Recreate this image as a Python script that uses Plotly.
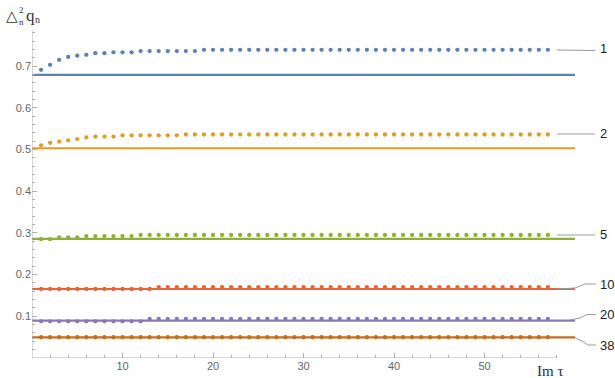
import plotly.graph_objects as go

# ---- data ----
n_labels = ["1", "2", "5", "10", "20", "38"]
colors = ["#5E81B5", "#E19C24", "#8FB032", "#EB6235", "#8778B3", "#C56E1A"]
limit_values = [0.679, 0.503, 0.2855, 0.1655, 0.0895, 0.0496]
im_tau = list(range(1, 58))

def steps(pairs):
    out = []
    for count, val in pairs:
        out += [val] * count
    return out

q1 = [0.691, 0.703, 0.715, 0.722, 0.725, 0.727, 0.731, 0.731, 0.733, 0.733, 0.733] + steps([(7, 0.736), (39, 0.739)])
q2 = [0.510, 0.516, 0.519, 0.522, 0.525, 0.529] + steps([(3, 0.531), (7, 0.534), (41, 0.536)])
q5 = steps([(2, 0.285), (3, 0.289), (6, 0.2925), (46, 0.295)])
q10 = steps([(13, 0.1655), (44, 0.170)])
q20 = steps([(12, 0.088), (45, 0.0935)])
q38 = steps([(57, 0.0498)])
series = [q1, q2, q5, q10, q20, q38]

x_major = [10, 20, 30, 40, 50]
x_minor = [v for v in range(2, 59, 2) if v % 10 != 0]
y_major = [0.1, 0.2, 0.3, 0.4, 0.5, 0.6, 0.7]
y_minor = [round(0.02 * i, 2) for i in range(1, 40) if i % 5 != 0]

# ---- layout geometry ----
FW, FH = 615, 378
L, R, T, B = 32, 3, 24, 20
W, PH = FW - L - R, FH - T - B
XR = [0, W / 9.05]
YR = [0, PH / 417.0]

def px(x):
    return (x - L) / W

def py(y):
    return (FH - B - y) / PH

fig = go.Figure()

line_end = 60
for val, c in zip(limit_values, colors):
    fig.add_trace(go.Scatter(x=[0, line_end], y=[val, val], mode="lines",
                             line=dict(color=c, width=2.2), hoverinfo="skip",
                             showlegend=False))
for ys, c in zip(series, colors):
    fig.add_trace(go.Scatter(x=im_tau, y=ys, mode="markers",
                             marker=dict(color=c, size=4.3), showlegend=False))

axis_col = "#b0b0b0"
tick_font = dict(family="Liberation Sans, Arial, sans-serif", size=11, color="#666666")

fig.update_layout(
    width=FW, height=FH,
    margin=dict(l=L, r=R, t=T, b=B),
    paper_bgcolor="white", plot_bgcolor="white",
    xaxis=dict(range=XR, showgrid=False, zeroline=False, showline=False,
               tickvals=x_major, ticktext=[str(v) for v in x_major],
               ticks="inside", ticklen=5, tickcolor=axis_col, tickwidth=1,
               tickfont=tick_font,
               minor=dict(tickvals=x_minor, ticks="inside", ticklen=3,
                          tickcolor=axis_col, showgrid=False)),
    yaxis=dict(range=YR, showgrid=False, zeroline=False, showline=False,
               tickvals=y_major, ticktext=[f"{v:.1f}" for v in y_major],
               ticks="inside", ticklen=5, tickcolor=axis_col, tickwidth=1,
               tickfont=tick_font,
               minor=dict(tickvals=y_minor, ticks="inside", ticklen=3,
                          tickcolor=axis_col, showgrid=False)),
)

shapes = [
    dict(type="line", xref="x", yref="y", x0=0, x1=58, y0=0, y1=0,
         line=dict(color=axis_col, width=1)),
    dict(type="line", xref="x", yref="y", x0=0, x1=0, y0=0, y1=0.785,
         line=dict(color=axis_col, width=1)),
]

# leader lines (pixel coordinates)
leaders = [
    [(557, 50), (595, 50.5)],
    [(557, 134), (595, 134)],
    [(557, 235), (595, 235)],
    [(557, 289), (575, 288), (585, 284), (596, 284)],
    [(570, 320), (580, 318), (587, 314.5), (596, 314.5)],
    [(575, 338), (582, 341), (588, 345), (596, 345)],
]
for pts in leaders:
    path = "M " + " L ".join(f"{px(x):.5f},{py(y):.5f}" for x, y in pts)
    shapes.append(dict(type="path", xref="paper", yref="paper", path=path,
                       line=dict(color="#9a9a9a", width=1)))
fig.update_layout(shapes=shapes)

label_pos = [(603, 49), (603, 133), (603, 235), (607, 284), (607, 314), (607, 345)]
annots = []
for txt, (x, y) in zip(n_labels, label_pos):
    annots.append(dict(text=txt, x=px(x), y=py(y), xref="paper", yref="paper",
                       showarrow=False, xanchor="center", yanchor="middle",
                       font=dict(family="Liberation Sans, Arial, sans-serif", size=13, color="#222222")))

serif = "Liberation Serif, Times New Roman, serif"
for txt, x, y, s in [("△", 12, 16, 15), ("2<br>n", 21.5, 15.5, 9),
                     ("q", 30.5, 15.5, 17), ("n", 37.5, 19.5, 10)]:
    annots.append(dict(text=txt, x=px(x), y=py(y), xref="paper", yref="paper",
                       showarrow=False, xanchor="center", yanchor="middle",
                       borderpad=0,
                       font=dict(family=serif, size=s, color="#333333")))
annots.append(dict(text="Im τ", x=px(550), y=py(371), xref="paper", yref="paper",
                   showarrow=False, xanchor="center", yanchor="middle",
                   font=dict(family=serif, size=15, color="#333333")))
fig.update_layout(annotations=annots)

fig.write_html("out.html")
